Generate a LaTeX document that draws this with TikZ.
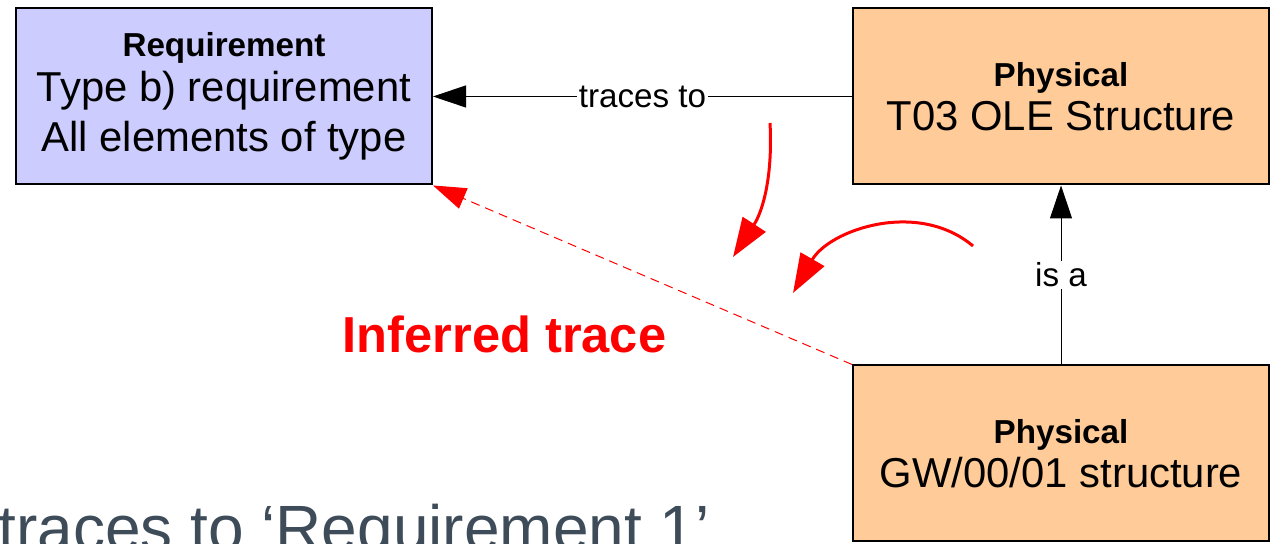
\documentclass[tikz,border=0pt]{standalone}
\usepackage{fontspec}
\setmainfont{Liberation Sans}
\usetikzlibrary{arrows.meta, positioning, calc}
\usepackage{xcolor}
\definecolor{jlavender}{HTML}{CCCCFF}
\definecolor{jpeach}{HTML}{FFCC99}
\definecolor{jslate}{HTML}{3E4C59}
\newcommand{\hdr}[1]{{\fontsize{16.6}{20}\selectfont\bfseries #1}}
\tikzset{
block/.style = {%
    rectangle, draw, line width=1pt, fill=#1,
    minimum width=208pt, minimum height=88pt,
    inner sep=0pt, align=center,
    font=\fontsize{20.9}{25}\selectfont},
    block/.default = jpeach,
lbl/.style = {%
    fill=white, inner sep=1pt,
    font=\fontsize{16.6}{20}\selectfont},
link/.style = {%
    draw, line width=0.5pt,
    -{Triangle[length=16.5pt,width=11pt]}},
hint/.style = {%
    draw, red, line width=1.5pt,
    -{Triangle[length=19.5pt,width=13.5pt]}}
}

\begin{document}
\begin{tikzpicture}[x=0.5pt, y=0.5pt]
        % Fix the frame (picture is cut at the edges)
        \useasboundingbox (0,0) rectangle (1272,544);
        \clip (0,0) rectangle (1272,544);

        % Blocks
        \node[block=jlavender] at (224,447.5) (req)
            {\hdr{Requirement}\\[-2.5pt]Type b) requirement\\All elements of type};
        \node[block] at (1061,447.5) (ole)
            {\hdr{Physical}\\[-3pt]T03 OLE Structure};
        \node[block] at (1061,90.5) (gw)
            {\hdr{Physical}\\[-3pt]GW/00/01 structure};

        % Traces and generalisation
        \path[link] (ole) -- node[lbl] {traces to} (req);
        \path[link] (gw) -- node[lbl] {is a} (ole);

        % Inferred trace
        \path[link, red, dash pattern=on 4.5pt off 3pt,
              -{Triangle[length=16.5pt,width=11pt,fill=red]}]
            (gw.north west) -- (req.south east);
        \node[red, font=\fontsize{25.3}{30}\selectfont\bfseries, anchor=base]
            at (504.5,191) (inf) {Inferred trace};

        % Red hint arrows
        \coordinate (h1a) at (770,421);
        \coordinate (h1b) at (733,287);
        \coordinate (h2a) at (973,298);
        \coordinate (h2b) at (793,251);
        \path[hint] (h1a) to[out=-87, in=57] (h1b);
        \path[hint] (h2a) to[out=140, in=60] (h2b);

        % Slide text (cut off at the bottom)
        \node[jslate, anchor=base west, inner sep=0pt,
              font=\fontsize{32}{38}\selectfont] at (-2,-7) (cap)
            {traces to ‘Requirement 1’};
    \end{tikzpicture}
\end{document}
